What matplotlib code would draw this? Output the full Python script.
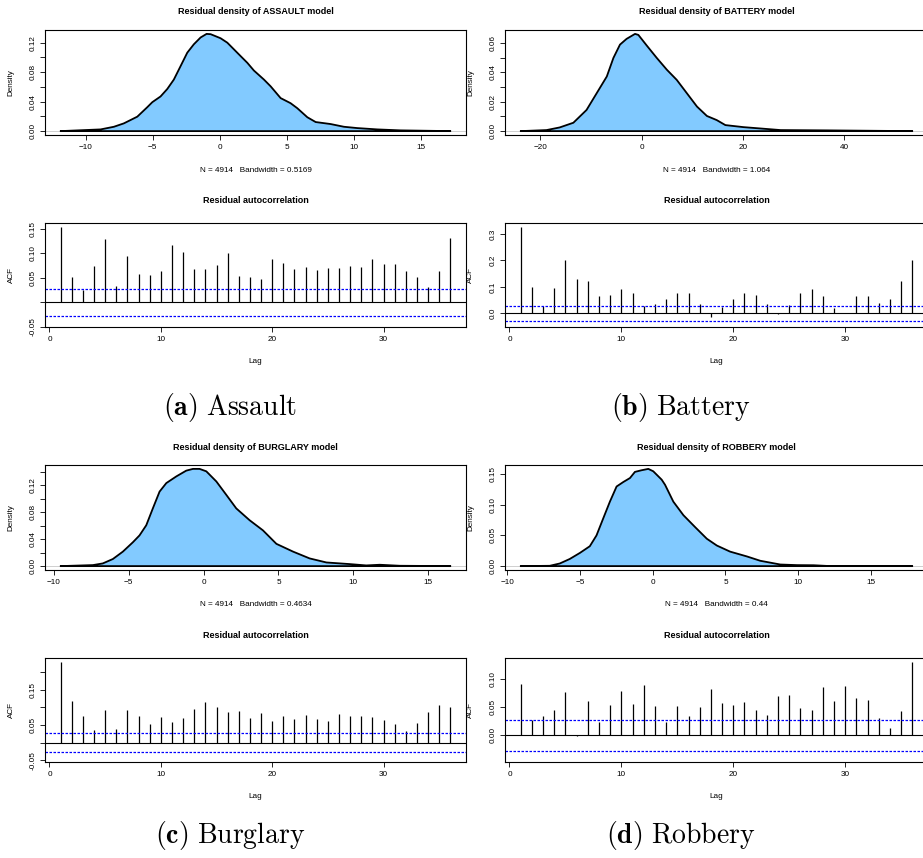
import numpy as np
import matplotlib.pyplot as plt

plt.rcParams['font.family'] = ['Liberation Sans', 'DejaVu Sans']
plt.rcParams['mathtext.fontset'] = 'cm'

W, H = 923, 858

# residual density curves (x, density)
assault_x = [-11.86, -8.88, -7.89, -7.15, -6.15, -5.41, -5.03, -4.42, -3.92, -3.43, -2.93, -2.43,
             -1.94, -1.44, -0.99, -0.69, 0.05, 0.55, 1.04, 1.54, 2.04, 2.53, 3.28, 3.78, 4.52,
             5.26, 5.76, 6.51, 7.13, 8.24, 9.23, 10.23, 11.72, 13.45, 17.16]
assault_y = [0.0, 0.0023, 0.0059, 0.0105, 0.0196, 0.0324, 0.0393, 0.047, 0.0571, 0.0699, 0.0881,
             0.1064, 0.1178, 0.127, 0.1319, 0.1315, 0.126, 0.120, 0.111, 0.1018, 0.0927, 0.0822,
             0.0699, 0.0607, 0.0448, 0.0379, 0.0311, 0.0188, 0.0123, 0.0096, 0.0059, 0.0041,
             0.0023, 0.001, 0.0]

battery_x = [-23.9, -18.8, -16.2, -13.5, -10.9, -8.9, -6.9, -5.6, -4.3, -3.0, -1.33, -0.67, 1.0,
             2.97, 4.95, 6.9, 8.9, 10.9, 12.86, 14.8, 16.5, 20.1, 23.4, 27.4, 36.6, 46.5, 53.4]
battery_y = [0.0, 0.0007, 0.0025, 0.0057, 0.0144, 0.0258, 0.0372, 0.0498, 0.0589, 0.0628, 0.0662,
             0.0655, 0.0582, 0.0498, 0.0418, 0.0349, 0.0258, 0.0167, 0.0103, 0.0075, 0.0041,
             0.0027, 0.0018, 0.0007, 0.0005, 0.0002, 0.0]

burglary_x = [-9.55, -7.39, -6.73, -6.06, -5.39, -4.72, -4.28, -3.83, -3.39, -2.94, -2.49, -1.82,
              -1.16, -0.71, -0.27, 0.18, 0.85, 1.52, 2.18, 3.07, 3.96, 4.86, 5.97, 7.08, 8.2,
              9.75, 10.86, 11.76, 13.1, 16.48]
burglary_y = [0.0, 0.0015, 0.004, 0.0105, 0.0215, 0.0354, 0.0455, 0.0605, 0.0855, 0.1104, 0.123,
              0.1329, 0.1414, 0.144, 0.144, 0.1404, 0.1254, 0.1054, 0.0855, 0.068, 0.053, 0.033,
              0.0215, 0.0114, 0.0054, 0.003, 0.001, 0.002, 0.0005, 0.0]

robbery_x = [-9.07, -7.07, -6.38, -5.7, -5.0, -4.32, -3.86, -3.4, -2.94, -2.48, -2.02, -1.56,
             -1.22, -0.76, -0.3, 0.04, 0.62, 0.85, 1.42, 2.11, 2.91, 3.72, 4.41, 5.32, 6.47,
             7.39, 8.77, 9.92, 11.06, 11.98, 17.84]
robbery_y = [0.0, 0.0005, 0.0043, 0.0116, 0.0215, 0.0324, 0.05, 0.0776, 0.105, 0.1297, 0.137,
             0.1435, 0.1535, 0.1562, 0.1584, 0.1545, 0.1408, 0.1325, 0.105, 0.083, 0.0637,
             0.0446, 0.0335, 0.0236, 0.0158, 0.0087, 0.0026, 0.0016, 0.0014, 0.0003, 0.0]

# residual autocorrelation, lags 1..36
lags = np.arange(1, 37)
assault_acf = [0.153, 0.052, 0.026, 0.075, 0.129, 0.033, 0.094, 0.058, 0.056, 0.064, 0.116, 0.1025,
               0.0686, 0.068, 0.076, 0.0998, 0.0536, 0.051, 0.048, 0.088, 0.081, 0.068, 0.072,
               0.066, 0.071, 0.0706, 0.0733, 0.072, 0.088, 0.078, 0.078, 0.064, 0.052, 0.031,
               0.064, 0.131]
battery_acf = [0.326, 0.098, 0.028, 0.0945, 0.2005, 0.1315, 0.124, 0.066, 0.070, 0.092, 0.079,
               0.028, 0.0345, 0.056, 0.079, 0.0766, 0.037, -0.014, 0.024, 0.0536, 0.079, 0.070,
               0.037, -0.002, 0.033, 0.079, 0.0907, 0.064, 0.019, 0.001, 0.064, 0.064, 0.038,
               0.0536, 0.121, 0.2005]
burglary_acf = [0.228, 0.119, 0.0766, 0.0367, 0.0927, 0.0386, 0.0927, 0.0747, 0.0528, 0.0737,
                0.0576, 0.070, 0.0953, 0.1164, 0.1003, 0.086, 0.0908, 0.0709, 0.0842, 0.0624,
                0.0766, 0.0661, 0.0785, 0.067, 0.0604, 0.0813, 0.0756, 0.0747, 0.0728, 0.0642,
                0.0538, 0.033, 0.0547, 0.087, 0.107, 0.102]
robbery_acf = [0.092, 0.0277, 0.035, 0.045, 0.078, -0.002, 0.0614, 0.024, 0.0548, 0.080, 0.056,
               0.090, 0.0524, 0.024, 0.053, 0.0337, 0.0506, 0.082, 0.0578, 0.0542, 0.059, 0.045,
               0.0367, 0.0705, 0.0717, 0.048, 0.0458, 0.0873, 0.062, 0.088, 0.0675, 0.0633,
               0.030, 0.0127, 0.044, 0.1313]
ci = 0.028

crimes = ['ASSAULT', 'BATTERY', 'BURGLARY', 'ROBBERY']
captions = [('a', 'Assault'), ('b', 'Battery'), ('c', 'Burglary'), ('d', 'Robbery')]
n_obs = 4914
bandwidths = ['0.5169', '1.064', '0.4634', '0.44']

FS = 5.9
FILL = '#82CAFF'


def px_box(l, t, r, b):
    return [l / W, 1 - b / H, (r - l) / W, (b - t) / H]


def style(ax):
    for s in ax.spines.values():
        s.set_linewidth(0.8)
    ax.tick_params(direction='out', length=3.3, width=0.6, labelsize=FS, pad=3.0)
    ax.tick_params(axis='y', labelrotation=90, pad=2.5)


def set_yticks(ax, ticks, labels):
    ax.set_yticks(ticks)
    ax.set_yticklabels(labels)
    for t in ax.get_yticklabels():
        t.set_va('center')


def density_panel(ax, x, y, name, bw, xticks, yticks, ylabels):
    ax.axhline(0, color='#c8c8c8', lw=0.6, zorder=1)
    ax.fill(x, y, facecolor=FILL, edgecolor='black', lw=1.3, zorder=2, joinstyle='round')
    ax.margins(x=0.04, y=0.04)
    ax.set_xticks(xticks)
    set_yticks(ax, yticks, ylabels)
    style(ax)
    ax.text(0.5, 1 + 18 / 105, 'Residual density of %s model' % name, transform=ax.transAxes,
            ha='center', va='center', fontsize=6.5, fontweight='bold')
    ax.text(0.5, -35 / 105, 'N = %d   Bandwidth = %s' % (n_obs, bw), transform=ax.transAxes,
            ha='center', va='center', fontsize=FS)
    ax.text(-34 / 421, 0.5, 'Density', transform=ax.transAxes, rotation=90,
            ha='center', va='center', fontsize=FS)


def acf_panel(ax, acf, ylim, yticks, ylabels):
    ax.vlines(lags, 0, acf, color='black', lw=0.9)
    ax.axhline(0, color='black', lw=0.8)
    for c in (ci, -ci):
        ax.axhline(c, color='blue', lw=0.9, ls=(0, (2, 1.2)))
    ax.margins(x=0.04)
    ax.set_ylim(*ylim)
    ax.set_xticks([0, 10, 20, 30])
    set_yticks(ax, yticks, ylabels)
    style(ax)
    ax.text(0.5, 1 + 22 / 104, 'Residual autocorrelation', transform=ax.transAxes,
            ha='center', va='center', fontsize=6.5, fontweight='bold')
    ax.text(0.5, -35 / 104, 'Lag', transform=ax.transAxes, ha='center', va='center', fontsize=FS)
    ax.text(-34 / 421, 0.5, 'ACF', transform=ax.transAxes, rotation=90,
            ha='center', va='center', fontsize=FS)


fig = plt.figure(figsize=(W / 100, H / 100), dpi=100)

cols = [(45, 466), (505, 928), (45, 466), (505, 928)]
rows = [0, 0, 435, 435]
dens = [(assault_x, assault_y), (battery_x, battery_y), (burglary_x, burglary_y), (robbery_x, robbery_y)]
acfs = [assault_acf, battery_acf, burglary_acf, robbery_acf]
xtick_sets = [range(-10, 16, 5), range(-20, 41, 20), range(-10, 16, 5), range(-10, 16, 5)]
dens_yticks = [
    (np.arange(0, 0.121, 0.02), ['0.00', '', '0.04', '', '0.08', '', '0.12']),
    (np.arange(0, 0.061, 0.01), ['0.00', '', '0.02', '', '0.04', '', '0.06']),
    (np.arange(0, 0.141, 0.02), ['0.00', '', '0.04', '', '0.08', '', '0.12', '']),
    (np.arange(0, 0.151, 0.05), ['0.00', '0.05', '0.10', '0.15']),
]
acf_ylims = [(-0.0495, 0.1617), (-0.051, 0.341), (-0.055, 0.24), (-0.048, 0.1384)]
acf_yticks = [
    ([-0.05, 0, 0.05, 0.10, 0.15], ['-0.05', '', '0.05', '0.10', '0.15']),
    ([0, 0.1, 0.2, 0.3], ['0.0', '0.1', '0.2', '0.3']),
    ([-0.05, 0, 0.05, 0.10, 0.15, 0.20], ['-0.05', '', '0.05', '', '0.15', '']),
    ([0, 0.05, 0.10], ['0.00', '0.05', '0.10']),
]
cap_x = [230, 681, 230, 681]
cap_y = [407, 407, 835, 835]

for i in range(4):
    l, r = cols[i]
    off = rows[i]
    ax1 = fig.add_axes(px_box(l, 30 + off, r, 135 + off))
    density_panel(ax1, dens[i][0], dens[i][1], crimes[i], bandwidths[i], list(xtick_sets[i]),
                  dens_yticks[i][0], dens_yticks[i][1])
    ax2 = fig.add_axes(px_box(l, 223 + off, r, 327 + off))
    acf_panel(ax2, acfs[i], acf_ylims[i], acf_yticks[i][0], acf_yticks[i][1])
    letter, word = captions[i]
    fig.text(cap_x[i] / W, 1 - cap_y[i] / H, r'$\mathbf{(%s)}\ \mathrm{%s}$' % (letter, word),
             ha='center', va='center', fontsize=20)

fig.savefig('out.png', dpi=100)
